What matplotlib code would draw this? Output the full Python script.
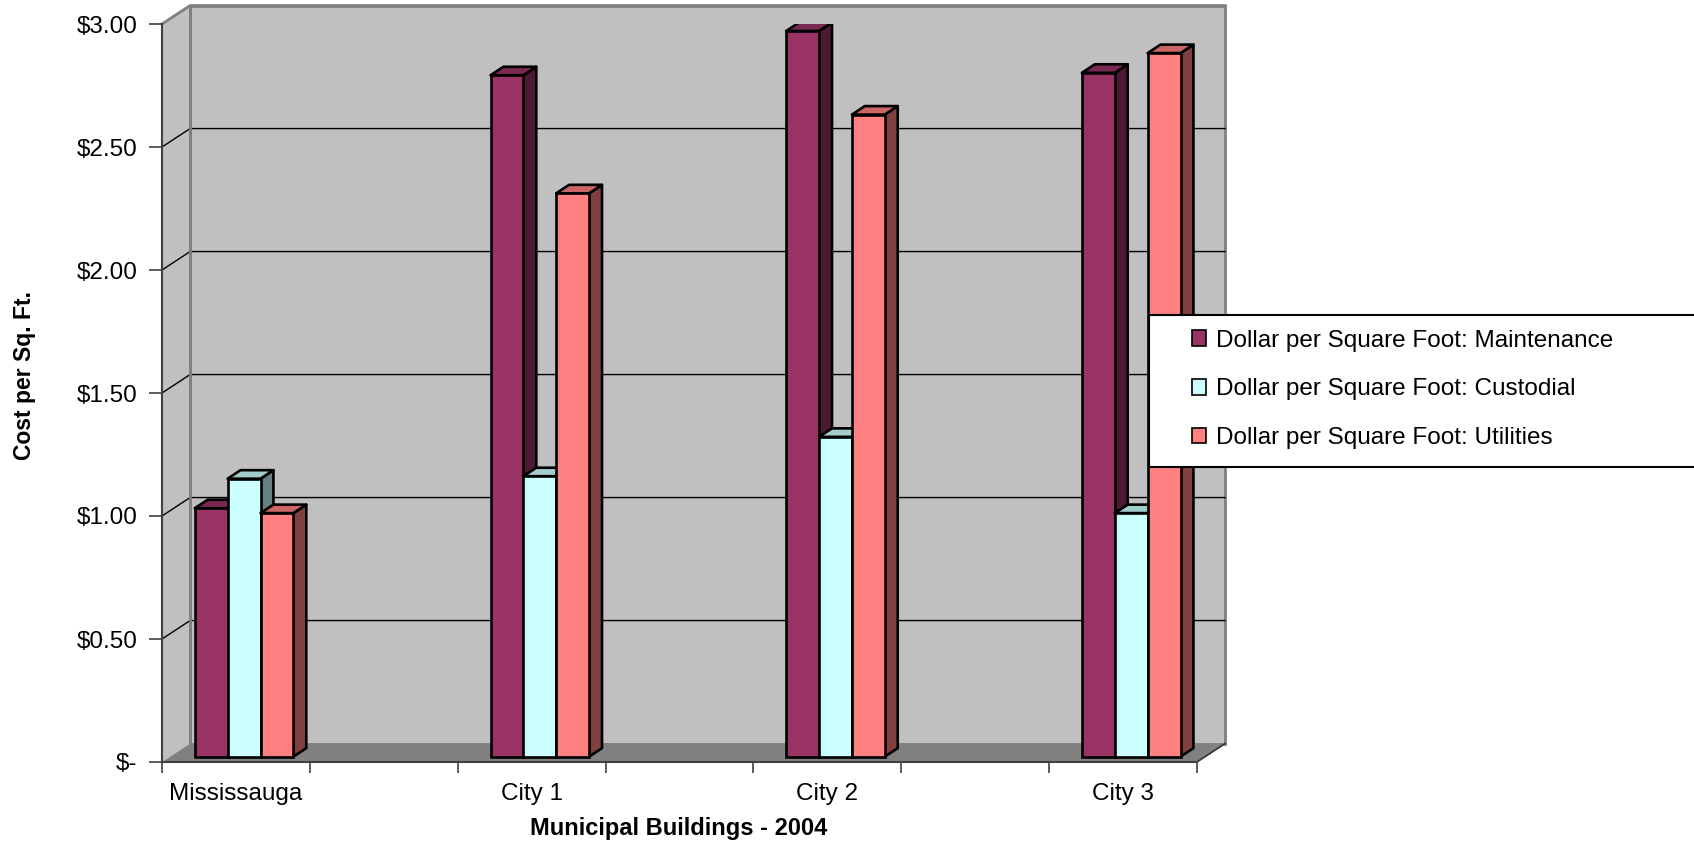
import matplotlib.pyplot as plt
from matplotlib.patches import Polygon, Rectangle, Patch
from matplotlib.colors import to_rgb

# Cost per square foot for municipal buildings, 2004
buildings = ['Mississauga', 'City 1', 'City 2', 'City 3']
series_names = ['Dollar per Square Foot: Maintenance',
                'Dollar per Square Foot: Custodial',
                'Dollar per Square Foot: Utilities']
maintenance = [1.01, 2.77, 2.95, 2.78]
custodial = [1.13, 1.14, 1.30, 0.99]
utilities = [0.99, 2.29, 2.61, 2.86]
y_ticks = [0, 0.5, 1.0, 1.5, 2.0, 2.5, 3.0]
y_labels = ['$-', '$0.50', '$1.00', '$1.50', '$2.00', '$2.50', '$3.00']

colors = ['#993366', '#ccffff', '#ff8080']
series = [maintenance, custodial, utilities]

plt.rcParams['font.family'] = ['Liberation Sans', 'DejaVu Sans']

# fake 3d: depth offset in data units, bar row position/thickness along depth
DX, DY = 0.19, 0.075
F0, G = 0.29, 0.46
W = 1 / (3 + 1.5)
YMAX = 3.0
EDGE = 1.9


def shade(c, k):
    return tuple(k * v for v in to_rgb(c))


fig = plt.figure(figsize=(16.94, 8.44), dpi=100)
ax = fig.add_axes([162 / 1694, 82 / 844, 1035 / 1694, 738 / 844])
n = 2 * len(buildings) - 1   # empty slot between buildings
ax.set_xlim(0, n)
ax.set_ylim(0, YMAX)

# walls and floor
ax.add_patch(Polygon([(0, 0), (DX, DY), (DX, YMAX + DY), (0, YMAX)],
                     fc='#c0c0c0', ec='none', clip_on=False, zorder=0))
ax.add_patch(Polygon([(DX, DY), (n + DX, DY), (n + DX, YMAX + DY), (DX, YMAX + DY)],
                     fc='#c0c0c0', ec='#808080', lw=2, clip_on=False, zorder=0))
ax.add_patch(Polygon([(0, 0), (n, 0), (n + DX, DY), (DX, DY)],
                     fc='#808080', ec='none', clip_on=False, zorder=0.5))
for t in y_ticks[1:-1]:
    ax.plot([0, DX, n + DX], [t, t + DY, t + DY], color='black', lw=1,
            clip_on=False, zorder=1)
ax.plot([0, DX, n + DX], [YMAX, YMAX + DY, YMAX + DY], color='#808080', lw=2,
        clip_on=False, zorder=1)
ax.plot([DX, DX], [DY, YMAX + DY], color='#808080', lw=2, clip_on=False, zorder=1)
ax.plot([n, n + DX], [0, DY], color='#333333', lw=1.2, clip_on=False, zorder=1)

# bars: side and top faces first, then the front face
for j, (vals, c) in enumerate(zip(series, colors)):
    xs = [2 * i + 0.5 + (j - 1.5) * W + F0 * DX for i in range(len(buildings))]
    base = F0 * DY
    for x0, v in zip(xs, vals):
        x1 = x0 + W
        top = base + v
        side = [(x1, base), (x1 + G * DX, base + G * DY),
                (x1 + G * DX, top + G * DY), (x1, top)]
        lid = [(x0, top), (x1, top), (x1 + G * DX, top + G * DY),
               (x0 + G * DX, top + G * DY)]
        ax.add_patch(Polygon(side, fc=shade(c, 0.5), ec='black', lw=EDGE,
                             joinstyle='round', zorder=3 + 2 * j))
        ax.add_patch(Polygon(lid, fc=shade(c, 0.8), ec='black', lw=EDGE,
                             joinstyle='round', zorder=3 + 2 * j))
    ax.bar(xs, vals, width=W, bottom=base, align='edge', color=c,
           edgecolor='black', lw=EDGE, zorder=4 + 2 * j)

# axes
for s in ['top', 'right']:
    ax.spines[s].set_visible(False)
ax.spines['left'].set_color('#404040')
ax.spines['left'].set_linewidth(1.5)
ax.spines['bottom'].set_color('#404040')
ax.spines['bottom'].set_linewidth(1.5)
ax.set_yticks(y_ticks)
ax.set_yticklabels(y_labels)
ax.set_xticks(range(n + 1), minor=False)
ax.set_xticklabels([])
ax.set_xticks([2 * i + 0.5 for i in range(len(buildings))], minor=True)
ax.set_xticklabels(buildings, minor=True)
ax.tick_params(axis='y', length=9.5, width=1.2, color='#404040', pad=8, labelsize=17.5)
ax.tick_params(axis='x', which='major', length=8, width=1.2, color='#404040')
ax.tick_params(axis='x', which='minor', length=0, pad=15, labelsize=17.5)

fig.text(679 / 1694, 1 - 829 / 844, 'Municipal Buildings - 2004', ha='center',
         va='center', fontsize=17, fontweight='bold')
fig.text(24 / 1694, 1 - 376 / 844, 'Cost per Sq. Ft.', ha='center', va='center',
         rotation=90, fontsize=16.5, fontweight='bold')

# legend box runs past the right edge
fig.add_artist(Rectangle((1149 / 1694, 1 - 467 / 844), 0.5, 152 / 844,
                         transform=fig.transFigure, fc='white', ec='black',
                         lw=1.5, zorder=10))
handles = [Patch(fc=c, ec='black', lw=1.2) for c in colors]
leg = fig.legend(handles, series_names, loc='upper left',
                 bbox_to_anchor=(1182 / 1694, 1 - 320 / 844), frameon=False,
                 borderaxespad=0, fontsize=17.5, handlelength=0.6,
                 handleheight=0.6, handletextpad=0.4, labelspacing=1.1)
leg.set_zorder(11)

fig.savefig('out.png', dpi=100)
